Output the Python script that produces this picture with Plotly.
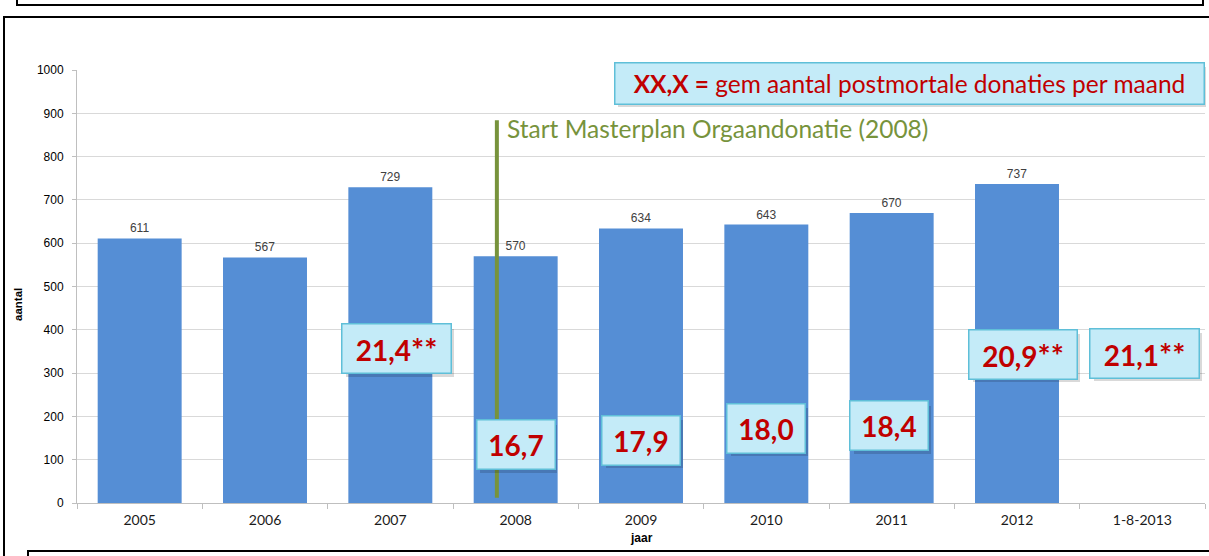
import plotly.graph_objects as go

# ---- data ----
years = ["2005", "2006", "2007", "2008", "2009", "2010", "2011", "2012", "1-8-2013"]
donations = [611, 567, 729, 570, 634, 643, 670, 737, None]
monthly_avg = ["21,4**", "16,7", "17,9", "18,0", "18,4", "20,9**", "21,1**"]
monthly_cat = ["2007", "2008", "2009", "2010", "2011", "2012", "1-8-2013"]
yticks = [0, 100, 200, 300, 400, 500, 600, 700, 800, 900, 1000]

W, H = 1209, 556
L, R, T, B = 77, 4, 70, 53
PW = W - L - R
PH = H - T - B

def px(x):
    return (x - L) / PW

def py(y):
    return (H - B - y) / PH

BAR = "#558ED5"
RED = "#C00000"
GREEN = "#77933C"
FONT = "Lato, 'Open Sans', sans-serif"
BOXFILL = "#C4EBF8"
BOXLINE = "#5FBFD8"

fig = go.Figure()
fig.add_trace(go.Bar(
    x=years, y=donations, marker_color=BAR, marker_line_width=0,
    text=[str(v) if v is not None else "" for v in donations],
    textposition="outside", cliponaxis=False,
    textfont=dict(size=12, color="#404040", family="Liberation Sans, Arial"),
    hoverinfo="skip", showlegend=False,
))

shapes = []
line_k = dict(color="#000000", width=2)
shapes.append(dict(type="rect", xref="paper", yref="paper",
                   x0=px(17), x1=px(1203), y0=py(5), y1=py(-20), line=line_k, layer="above"))
shapes.append(dict(type="rect", xref="paper", yref="paper",
                   x0=px(4), x1=px(1215), y0=py(560), y1=py(17), line=line_k, layer="above"))
shapes.append(dict(type="rect", xref="paper", yref="paper",
                   x0=px(28), x1=px(1215), y0=py(600), y1=py(551), line=line_k,
                   fillcolor="white", layer="above"))
# masterplan line (at 2008, slightly left of centre)
shapes.append(dict(type="line", xref="x", yref="y",
                   x0=2.85, x1=2.85, y0=12, y1=884,
                   line=dict(color=GREEN, width=4), layer="above"))

annotations = []

def box(xc, yc, text, w, h, xref="x", yref="y", size=28):
    common = dict(x=xc, y=yc, xref=xref, yref=yref, showarrow=False,
                  xanchor="center", yanchor="middle", width=w, height=h)
    annotations.append(dict(common, text="", bgcolor="rgba(0,0,0,0.15)", borderwidth=0,
                            xshift=3, yshift=-4))
    annotations.append(dict(common, text=text, bgcolor=BOXFILL, bordercolor=BOXLINE,
                            borderwidth=1.5, font=dict(size=size, color=RED, family=FONT)))

def fmt(t):
    if t.endswith("**"):
        return "<b>" + t[:-2] + "<span style='font-size:31px'>**</span></b>"
    return "<b>" + t + "</b>"

# monthly average label positions (layout only)
lab_dx = [0.05, 0.0, 0.0, 0.0, -0.02, 0.05, 0.02]
lab_y = [356, 134, 145, 173, 178, 344, 346]
lab_w = [106, 75, 75, 75, 75, 105, 106]
for c, t, dx, yy, w in zip(monthly_cat, monthly_avg, lab_dx, lab_y, lab_w):
    box(years.index(c) + dx, yy, fmt(t), w, 46)

# legend box
box(px(909), py(83), "<b>XX,X =</b> gem aantal postmortale donaties per maand",
    586, 38, xref="paper", yref="paper", size=24.5)

# masterplan text
annotations.append(dict(x=px(505), y=py(128), xref="paper", yref="paper",
                        xanchor="left", yanchor="middle", showarrow=False,
                        text="Start Masterplan Orgaandonatie (2008)",
                        font=dict(size=24.5, color=GREEN, family=FONT)))
# axis titles
annotations.append(dict(x=px(18), y=py(305), xref="paper", yref="paper", showarrow=False,
                        xanchor="center", yanchor="middle",
                        text="<b>aantal</b>", textangle=-90,
                        font=dict(size=11.5, color="#000000", family="Liberation Sans, Arial")))
annotations.append(dict(x=px(641), y=py(538), xref="paper", yref="paper", showarrow=False,
                        xanchor="center", yanchor="middle",
                        text="<b>jaar</b>",
                        font=dict(size=12, color="#000000", family="Liberation Sans, Arial")))

fig.update_layout(
    width=W, height=H, margin=dict(l=L, r=R, t=T, b=B, autoexpand=False),
    paper_bgcolor="white", plot_bgcolor="white",
    bargap=0.33, shapes=shapes, annotations=annotations,
    xaxis=dict(type="category", categoryorder="array", categoryarray=years,
               range=[-0.5, 8.5], tickson="boundaries", ticks="outside", ticklen=5,
               tickcolor="#BFBFBF", showline=True, linecolor="#BFBFBF", linewidth=1,
               showgrid=False, ticklabelstandoff=4,
               tickfont=dict(size=14, color="#1a1a1a", family=FONT)),
    yaxis=dict(range=[0, 1000], tickvals=yticks, ticks="outside", ticklen=4,
               tickcolor="#BFBFBF", showline=True, linecolor="#BFBFBF", linewidth=1,
               gridcolor="#D9D9D9", gridwidth=1, zeroline=False, ticklabelstandoff=6,
               tickfont=dict(size=12, color="#000000", family="Liberation Sans, Arial")),
)

fig.write_html("out.html", config={"displayModeBar": False},
               post_script="document.body.style.margin='0';document.body.style.overflow='hidden';")
